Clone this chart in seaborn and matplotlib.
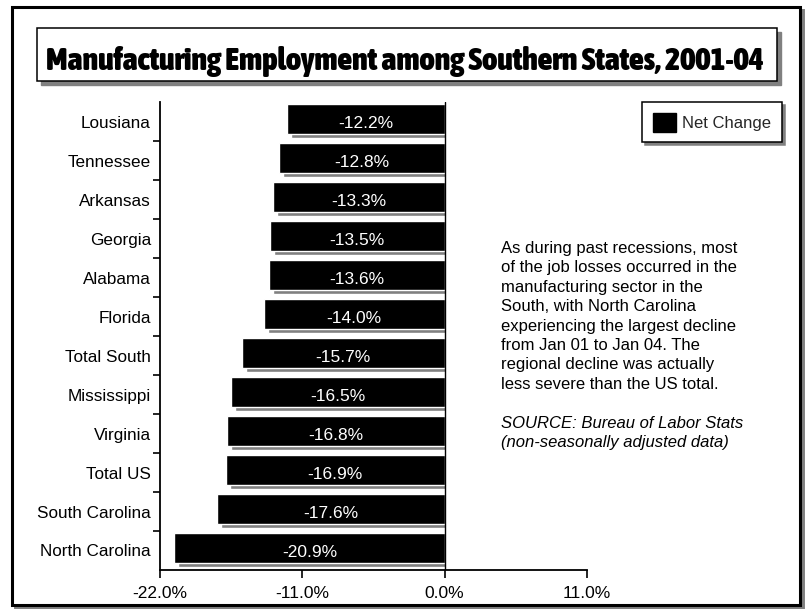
import matplotlib
matplotlib.use("Agg")
import matplotlib.pyplot as plt
from matplotlib import font_manager
from matplotlib.font_manager import FontProperties
from matplotlib.patches import Rectangle, Patch
from matplotlib.transforms import ScaledTranslation, Bbox, TransformedBbox
import numpy as np
import pandas as pd
import seaborn as sns

# ---- data -----------------------------------------------------------------
states = ["Lousiana", "Tennessee", "Arkansas", "Georgia", "Alabama", "Florida",
          "Total South", "Mississippi", "Virginia", "Total US",
          "South Carolina", "North Carolina"]
net_change = [-12.2, -12.8, -13.3, -13.5, -13.6, -14.0,
              -15.7, -16.5, -16.8, -16.9, -17.6, -20.9]
x_ticks = [-22.0, -11.0, 0.0, 11.0]

title = "Manufacturing Employment among Southern States, 2001-04"
legend_label = "Net Change"
note_lines = [
    "As during past recessions, most",
    "of the job losses occurred in the",
    "manufacturing sector in the",
    "South, with North Carolina",
    "experiencing the largest decline",
    "from Jan 01 to Jan 04. The",
    "regional decline was actually",
    "less severe than the US total.",
]
source_lines = [
    "SOURCE: Bureau of Labor Stats",
    "(non-seasonally adjusted data)",
]

df = pd.DataFrame({"state": states, "change": net_change})

# ---- style ----------------------------------------------------------------
sns.set_style("ticks")
plt.rcParams["font.family"] = ["Liberation Sans", "DejaVu Sans"]
plt.rcParams["axes.unicode_minus"] = False

W, H = 805, 609
SHADOW = "#808080"
fig = plt.figure(figsize=(W / 100, H / 100), dpi=100)


def fx(px):
    return px / W


def fy(py):
    return 1 - py / H


def px_rect(x0, y0, x1, y1, **kw):
    """Rectangle given in pixel coordinates measured from the top-left."""
    r = Rectangle((fx(x0), fy(y1)), (x1 - x0) / W, (y1 - y0) / H,
                  transform=fig.transFigure, **kw)
    fig.patches.append(r)
    return r


# outer frame with drop shadow
px_rect(14.5, 9.7, 803.3, 607.5, facecolor=SHADOW, edgecolor=SHADOW,
        linewidth=2.1, zorder=-3)
px_rect(11.5, 6.7, 800.3, 604.5, facecolor="white", edgecolor="black",
        linewidth=2.2, zorder=-2)

# title box with drop shadow
px_rect(41, 32, 781, 85, facecolor=SHADOW, edgecolor=SHADOW,
        linewidth=1.0, zorder=-1)
px_rect(37, 28, 777, 81, facecolor="white", edgecolor="black",
        linewidth=1.1, zorder=-1)


def condensed_bold():
    best, best_key = None, None
    for f in font_manager.fontManager.ttflist:
        w = f.weight if isinstance(f.weight, (int, float)) else \
            font_manager.weight_dict.get(f.weight, 400)
        s = f.stretch if isinstance(f.stretch, (int, float)) else \
            font_manager.stretch_dict.get(f.stretch, 500)
        if w >= 600 and s < 500 and f.style == "normal":
            key = (s, -w)
            if best_key is None or key < best_key:
                best, best_key = f, key
    if best is not None:
        return FontProperties(fname=best.fname)
    return FontProperties(family="DejaVu Sans", weight="bold")


title_font = condensed_bold()
t = fig.text(fx(405), fy(70), title, ha="center", va="baseline",
             fontproperties=title_font, color="black")
t.set_fontsize(20)
renderer = fig.canvas.get_renderer()
bw = t.get_window_extent(renderer).width
t.set_fontsize(20 * 716 / bw)

# ---- bars -----------------------------------------------------------------
ax = fig.add_axes([fx(160), fy(570), (587 - 160) / W, (570 - 102) / H])
ax.set_facecolor("none")

sns.barplot(data=df, y="state", x="change", orient="h", color=SHADOW,
            saturation=1, width=0.75, errorbar=None, ax=ax, zorder=1)
sns.barplot(data=df, y="state", x="change", orient="h", color="black",
            saturation=1, width=0.75, errorbar=None, ax=ax, zorder=2)

shadow_bars, main_bars = ax.containers[0], ax.containers[1]
shadow_shift = ScaledTranslation(4 / 100, -2 / 100, fig.dpi_scale_trans)
bar_shift = ScaledTranslation(0, 2.5 / 100, fig.dpi_scale_trans)
clip = TransformedBbox(Bbox([[-22, -1], [0, len(states)]]), ax.transData)
for p in shadow_bars:
    p.set_transform(ax.transData + shadow_shift)
    p.set_clip_box(clip)
for p in main_bars:
    p.set_transform(ax.transData + bar_shift)

value_labels = ax.bar_label(main_bars, labels=[f"{v:.1f}%" for v in net_change],
                            label_type="center", color="white", fontsize=12.5)
for lab in value_labels:
    lab.xyann = (0, -3.5)

ax.axvline(0, color="black", lw=1.0, zorder=3)

# ---- axes -----------------------------------------------------------------
ax.set_xlim(x_ticks[0], x_ticks[-1])
ax.set_ylim(len(states) - 0.5, -0.5)
ax.set_xticks(x_ticks)
ax.set_xticklabels([f"{v:.1f}%" for v in x_ticks])
ax.set_xlabel("")
ax.set_ylabel("")
ax.set_yticks(np.arange(0.5, len(states) - 0.5), minor=True)

for side in ("top", "right"):
    ax.spines[side].set_visible(False)
for side in ("left", "bottom"):
    ax.spines[side].set_color("black")
    ax.spines[side].set_linewidth(1.3)

ax.tick_params(axis="x", which="major", direction="out", length=5.8,
               width=1.2, color="black", labelsize=12.5, pad=5.5,
               labelcolor="black")
ax.tick_params(axis="y", which="major", length=0, pad=6.5,
               labelsize=12.3, labelcolor="black")
ax.tick_params(axis="y", which="minor", direction="out", length=5,
               width=1.2, color="black", left=True)

# ---- legend ---------------------------------------------------------------
leg = ax.legend(handles=[Patch(facecolor="black", edgecolor="black",
                               label=legend_label)],
                loc="upper right", bbox_to_anchor=(fx(782), fy(102)),
                bbox_transform=fig.transFigure, borderaxespad=0,
                fancybox=False, framealpha=1, edgecolor="black",
                fontsize=12, handlelength=1.35, handleheight=1.35,
                handletextpad=0.4, borderpad=0.65,
                shadow={"color": SHADOW, "alpha": 1})
leg.get_frame().set_linewidth(1.1)

# ---- commentary -----------------------------------------------------------
for i, line in enumerate(note_lines):
    fig.text(fx(501), fy(253 + 19.4 * i), line, ha="left", va="baseline",
             fontsize=12, color="black")
for i, line in enumerate(source_lines):
    fig.text(fx(501), fy(253 + 19.4 * (len(note_lines) + 1 + i)), line,
             ha="left", va="baseline", fontsize=12, style="italic",
             color="black")

fig.savefig("out.png", dpi=100)
